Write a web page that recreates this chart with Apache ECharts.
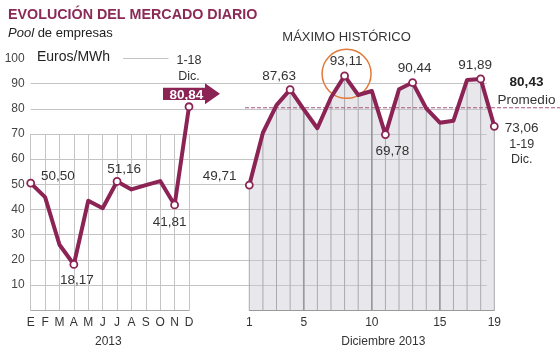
<!DOCTYPE html>
<html>
<head>
<meta charset="utf-8">
<script src="https://cdn.jsdelivr.net/npm/echarts@6/dist/echarts.min.js"></script>
<style>
  html, body { margin: 0; padding: 0; background: #fff; }
  #chart { width: 560px; height: 347px; }
</style>
</head>
<body>
<div id="chart"></div>
<script>
// Monthly average pool price, 2013 (EUR/MWh)
const months = ['E', 'F', 'M', 'A', 'M', 'J', 'J', 'A', 'S', 'O', 'N', 'D'];
const monthlyPrice = [50.50, 44.9, 26.0, 18.17, 43.5, 40.5, 51.16, 48.0, 49.7, 51.3, 41.81, 80.84];

// Daily pool price, 1-19 December 2013 (EUR/MWh)
const days = ['1', '2', '3', '4', '5', '6', '7', '8', '9', '10', '11', '12', '13', '14', '15', '16', '17', '18', '19'];
const dailyPrice = [49.71, 70.5, 81.5, 87.63, 79.8, 72.3, 84.5, 93.11, 85.5, 87.1, 69.78, 87.8, 90.44, 80.2, 74.5, 75.3, 91.5, 91.89, 73.06];
const decemberAverage = 80.43;

// Tick labels shown on the December axis, and the days drawn with a heavier rule
const dayTickLabels = ['1', '5', '10', '15', '19'];
const majorDays = ['5', '10', '15'];

const FONT = '"Liberation Sans", Arial, Helvetica, sans-serif';
const WINE = '#8c2355';
const GRID = '#c4c4c4';
const TEXT = '#333';

// plot geometry shared by both panels (same price scale)
const TOP = 58.5, HEIGHT = 251.7;
const LEFT_X = 30.7, LEFT_W = 158.3;
const RIGHT_X = 249.3, RIGHT_W = 245;

const fmt = v => v.toFixed(2).replace('.', ',');

const valueLabel = { fontSize: 13.5, color: TEXT, fontFamily: FONT };

// label placement for the annotated months
const monthLabelPlacement = {
  0: { position: 'right', offset: [1, -7] },
  3: { position: 'bottom', offset: [3, -1] },
  6: { position: 'top', offset: [7, 4] },
  10: { position: 'bottom', offset: [-5, 1] }
};
// label placement for the annotated days
const dayLabelPlacement = {
  0: { position: 'left', offset: [-3.3, -8.4] },
  3: { position: 'top', offset: [-11, 3] },
  7: { position: 'top', offset: [1.5, 2] },
  10: { position: 'bottom', offset: [7, 0] },
  12: { position: 'top', offset: [2, 2] },
  17: { position: 'top', offset: [-5.6, 2.5] }
};

const lastMonth = monthlyPrice.length - 1;
const monthlyData = monthlyPrice.map((v, i) => {
  const p = monthLabelPlacement[i];
  if (p) {
    return { value: v, label: Object.assign({ show: true, formatter: fmt(v) }, valueLabel, p) };
  }
  if (i === lastMonth) {
    return {
      value: v,
      label: {
        show: true, position: 'top', offset: [0, -13],
        formatter: '{s|1-18}\n{s|Dic.}',
        rich: { s: { fontSize: 12.5, lineHeight: 16, color: TEXT, fontFamily: FONT, backgroundColor: '#fff', padding: [0, 8] } }
      }
    };
  }
  return { value: v, symbol: 'none' };
});

const lastDay = dailyPrice.length - 1;
const dailyData = dailyPrice.map((v, i) => {
  const p = dayLabelPlacement[i];
  if (p) {
    return { value: v, label: Object.assign({ show: true, formatter: fmt(v) }, valueLabel, p) };
  }
  if (i === lastDay) {
    return {
      value: v,
      label: {
        show: true, position: 'right', align: 'center', offset: [18, 17],
        formatter: '{v|' + fmt(v) + '}\n{s|1-19}\n{s|Dic.}',
        rich: {
          v: { fontSize: 13.5, lineHeight: 17, color: TEXT, fontFamily: FONT },
          s: { fontSize: 12.5, lineHeight: 15, color: TEXT, fontFamily: FONT }
        }
      }
    };
  }
  return { value: v, symbol: 'none' };
});

const peakIndex = dailyPrice.indexOf(Math.max(...dailyPrice));

const hiddenValueAxis = (gridIndex, min, max) => ({
  gridIndex, type: 'value', min, max, show: false
});

const panel = (left, top, width, height) => ({ left, top, width, height, outerBoundsMode: 'none', containLabel: false });

const option = {
  animation: false,
  textStyle: { fontFamily: FONT },
  title: [
    {
      text: 'EVOLUCIÓN DEL MERCADO DIARIO', left: 8, top: 7, padding: 0,
      textStyle: { fontSize: 14.3, fontWeight: 'bold', color: '#8b2a57', lineHeight: 16, fontFamily: FONT }
    },
    {
      text: '{i|Pool} de empresas', left: 8, top: 25, padding: 0,
      textStyle: {
        fontSize: 13, color: '#222', lineHeight: 16, fontFamily: FONT, fontWeight: 'normal',
        rich: { i: { fontStyle: 'italic', fontSize: 13, color: '#222', fontFamily: FONT } }
      }
    },
    {
      text: 'Euros/MWh', left: 30, top: 49, padding: [0, 13, 0, 7], backgroundColor: '#fff',
      textStyle: { fontSize: 14, color: '#222', lineHeight: 17, fontFamily: FONT, fontWeight: 'normal' }
    }
  ],
  grid: [
    panel(LEFT_X, TOP, LEFT_W, HEIGHT),                          // monthly line
    panel(RIGHT_X, TOP, RIGHT_W, HEIGHT),                        // daily line
    panel(LEFT_X, TOP, 456, HEIGHT),                             // horizontal rules
    panel(LEFT_X, TOP + HEIGHT * 0.3, LEFT_W, HEIGHT * 0.7),     // monthly verticals
    panel(245, TOP, 315, HEIGHT)                                 // December average
  ],
  xAxis: [
    {
      gridIndex: 0, type: 'category', data: months, boundaryGap: false,
      axisLine: { lineStyle: { color: '#aaa', width: 1 } },
      axisTick: { show: false },
      axisLabel: { interval: 0, margin: 6, fontSize: 12, color: TEXT, fontFamily: FONT },
      splitLine: { show: false },
      name: '2013', nameLocation: 'middle', nameGap: 25,
      nameTextStyle: { fontSize: 12, color: TEXT, fontFamily: FONT, padding: [0, 3, 0, 0] }
    },
    {
      gridIndex: 1, type: 'category', data: days, boundaryGap: false,
      axisLine: { lineStyle: { color: '#999', width: 1 } },
      axisTick: { show: false },
      axisLabel: {
        interval: (i, v) => dayTickLabels.includes(v),
        margin: 6, fontSize: 12, color: TEXT, fontFamily: FONT
      },
      splitLine: { show: false },
      name: 'Diciembre 2013', nameLocation: 'middle', nameGap: 25,
      nameTextStyle: { fontSize: 12, color: TEXT, fontFamily: FONT, padding: [0, 0, 0, 23] }
    },
    { gridIndex: 1, type: 'category', data: days, boundaryGap: false, show: false },
    hiddenValueAxis(2, 0, 1),
    {
      gridIndex: 3, type: 'category', data: months, boundaryGap: false,
      axisLine: { show: false }, axisTick: { show: false }, axisLabel: { show: false },
      splitLine: { show: true, interval: 0, lineStyle: { color: GRID, width: 1 } }
    },
    hiddenValueAxis(4, 0, 1)
  ],
  yAxis: [
    {
      gridIndex: 0, type: 'value', min: 0, max: 100, interval: 10,
      axisLine: { show: false }, axisTick: { show: false }, splitLine: { show: false },
      axisLabel: { showMinLabel: false, margin: 6, fontSize: 12, color: '#444', fontFamily: FONT }
    },
    hiddenValueAxis(1, 0, 100),
    {
      gridIndex: 2, type: 'value', min: 0, max: 100, interval: 10,
      axisLine: { show: false }, axisTick: { show: false }, axisLabel: { show: false },
      splitLine: { show: true, showMinLine: false, showMaxLine: false, lineStyle: { color: GRID, width: 1 } }
    },
    hiddenValueAxis(3, 0, 1),
    hiddenValueAxis(4, 0, 100)
  ],
  series: [
    // shaded area under the December prices
    {
      type: 'line', xAxisIndex: 1, yAxisIndex: 1, data: dailyPrice, z: 1, silent: true,
      symbol: 'none', lineStyle: { width: 0 },
      areaStyle: { color: '#c8c8d2', opacity: 0.42 }
    },
    // daily rules rising up to each day's price
    {
      type: 'bar', xAxisIndex: 1, yAxisIndex: 1, data: dailyPrice, z: 2, silent: true,
      barWidth: 1, clip: false, itemStyle: { color: '#a9a9b0' }
    },
    {
      type: 'bar', xAxisIndex: 2, yAxisIndex: 1, z: 2, silent: true,
      data: dailyPrice.map((v, i) => majorDays.includes(days[i]) ? v : '-'),
      barWidth: 1.6, clip: false, itemStyle: { color: '#98989f' }
    },
    // December average
    {
      type: 'line', xAxisIndex: 5, yAxisIndex: 4, z: 3, silent: true,
      symbol: 'none',
      lineStyle: { color: '#a4557c', width: 1.2, type: [4, 2] },
      data: [
        [0, decemberAverage],
        {
          value: [1, decemberAverage],
          symbol: 'circle', symbolSize: 1,
          itemStyle: { color: 'rgba(0,0,0,0)' },
          label: {
            show: true, position: 'top', align: 'center', offset: [-33.5, 6.4],
            formatter: '{b|' + fmt(decemberAverage) + '}\n{p|Promedio}',
            rich: {
              b: { fontWeight: 'bold', fontSize: 13.5, lineHeight: 18, color: '#222', fontFamily: FONT },
              p: { fontSize: 13.5, lineHeight: 17, color: TEXT, fontFamily: FONT }
            }
          }
        }
      ]
    },
    // monthly prices
    {
      type: 'line', xAxisIndex: 0, yAxisIndex: 0, z: 5, silent: true,
      data: monthlyData,
      symbol: 'circle', symbolSize: 7,
      lineStyle: { color: WINE, width: 4, join: 'round' },
      itemStyle: { color: '#fff', borderColor: WINE, borderWidth: 1.8 },
      markLine: {
        silent: true, symbol: ['none', 'none'], label: { show: false },
        lineStyle: { color: GRID, type: 'solid', width: 1 },
        data: [{ yAxis: 100 }]
      },
      markPoint: {
        silent: true,
        data: [{
          coord: [lastMonth, monthlyPrice[lastMonth]], value: monthlyPrice[lastMonth],
          symbol: 'path://M0,4.4L42,4.4L42,0L57,10.5L42,21L42,16.7L0,16.7Z',
          symbolSize: [57, 21], symbolOffset: [2.5, -12.9],
          itemStyle: { color: WINE, borderWidth: 0 },
          label: {
            show: true, position: 'inside', offset: [-5.2, 1],
            formatter: p => fmt(p.value),
            color: '#fff', fontWeight: 'bold', fontSize: 13.5, fontFamily: FONT
          }
        }]
      }
    },
    // daily prices
    {
      type: 'line', xAxisIndex: 1, yAxisIndex: 1, z: 5, silent: true,
      data: dailyData,
      symbol: 'circle', symbolSize: 7,
      lineStyle: { color: WINE, width: 4, join: 'round' },
      itemStyle: { color: '#fff', borderColor: WINE, borderWidth: 1.8 },
      markPoint: {
        silent: true,
        data: [{
          coord: [peakIndex, dailyPrice[peakIndex]], value: dailyPrice[peakIndex],
          symbol: 'circle', symbolSize: 49, symbolOffset: [2, -2],
          itemStyle: { color: 'rgba(0,0,0,0)', borderColor: '#e07a3a', borderWidth: 1.5 },
          label: {
            show: true, position: 'top', distance: 5,
            formatter: 'MÁXIMO HISTÓRICO',
            fontSize: 13, color: TEXT, fontFamily: FONT
          }
        }]
      }
    }
  ]
};

const chart = echarts.init(document.getElementById('chart'), null, { renderer: 'canvas' });
chart.setOption(option);
</script>
</body>
</html>
